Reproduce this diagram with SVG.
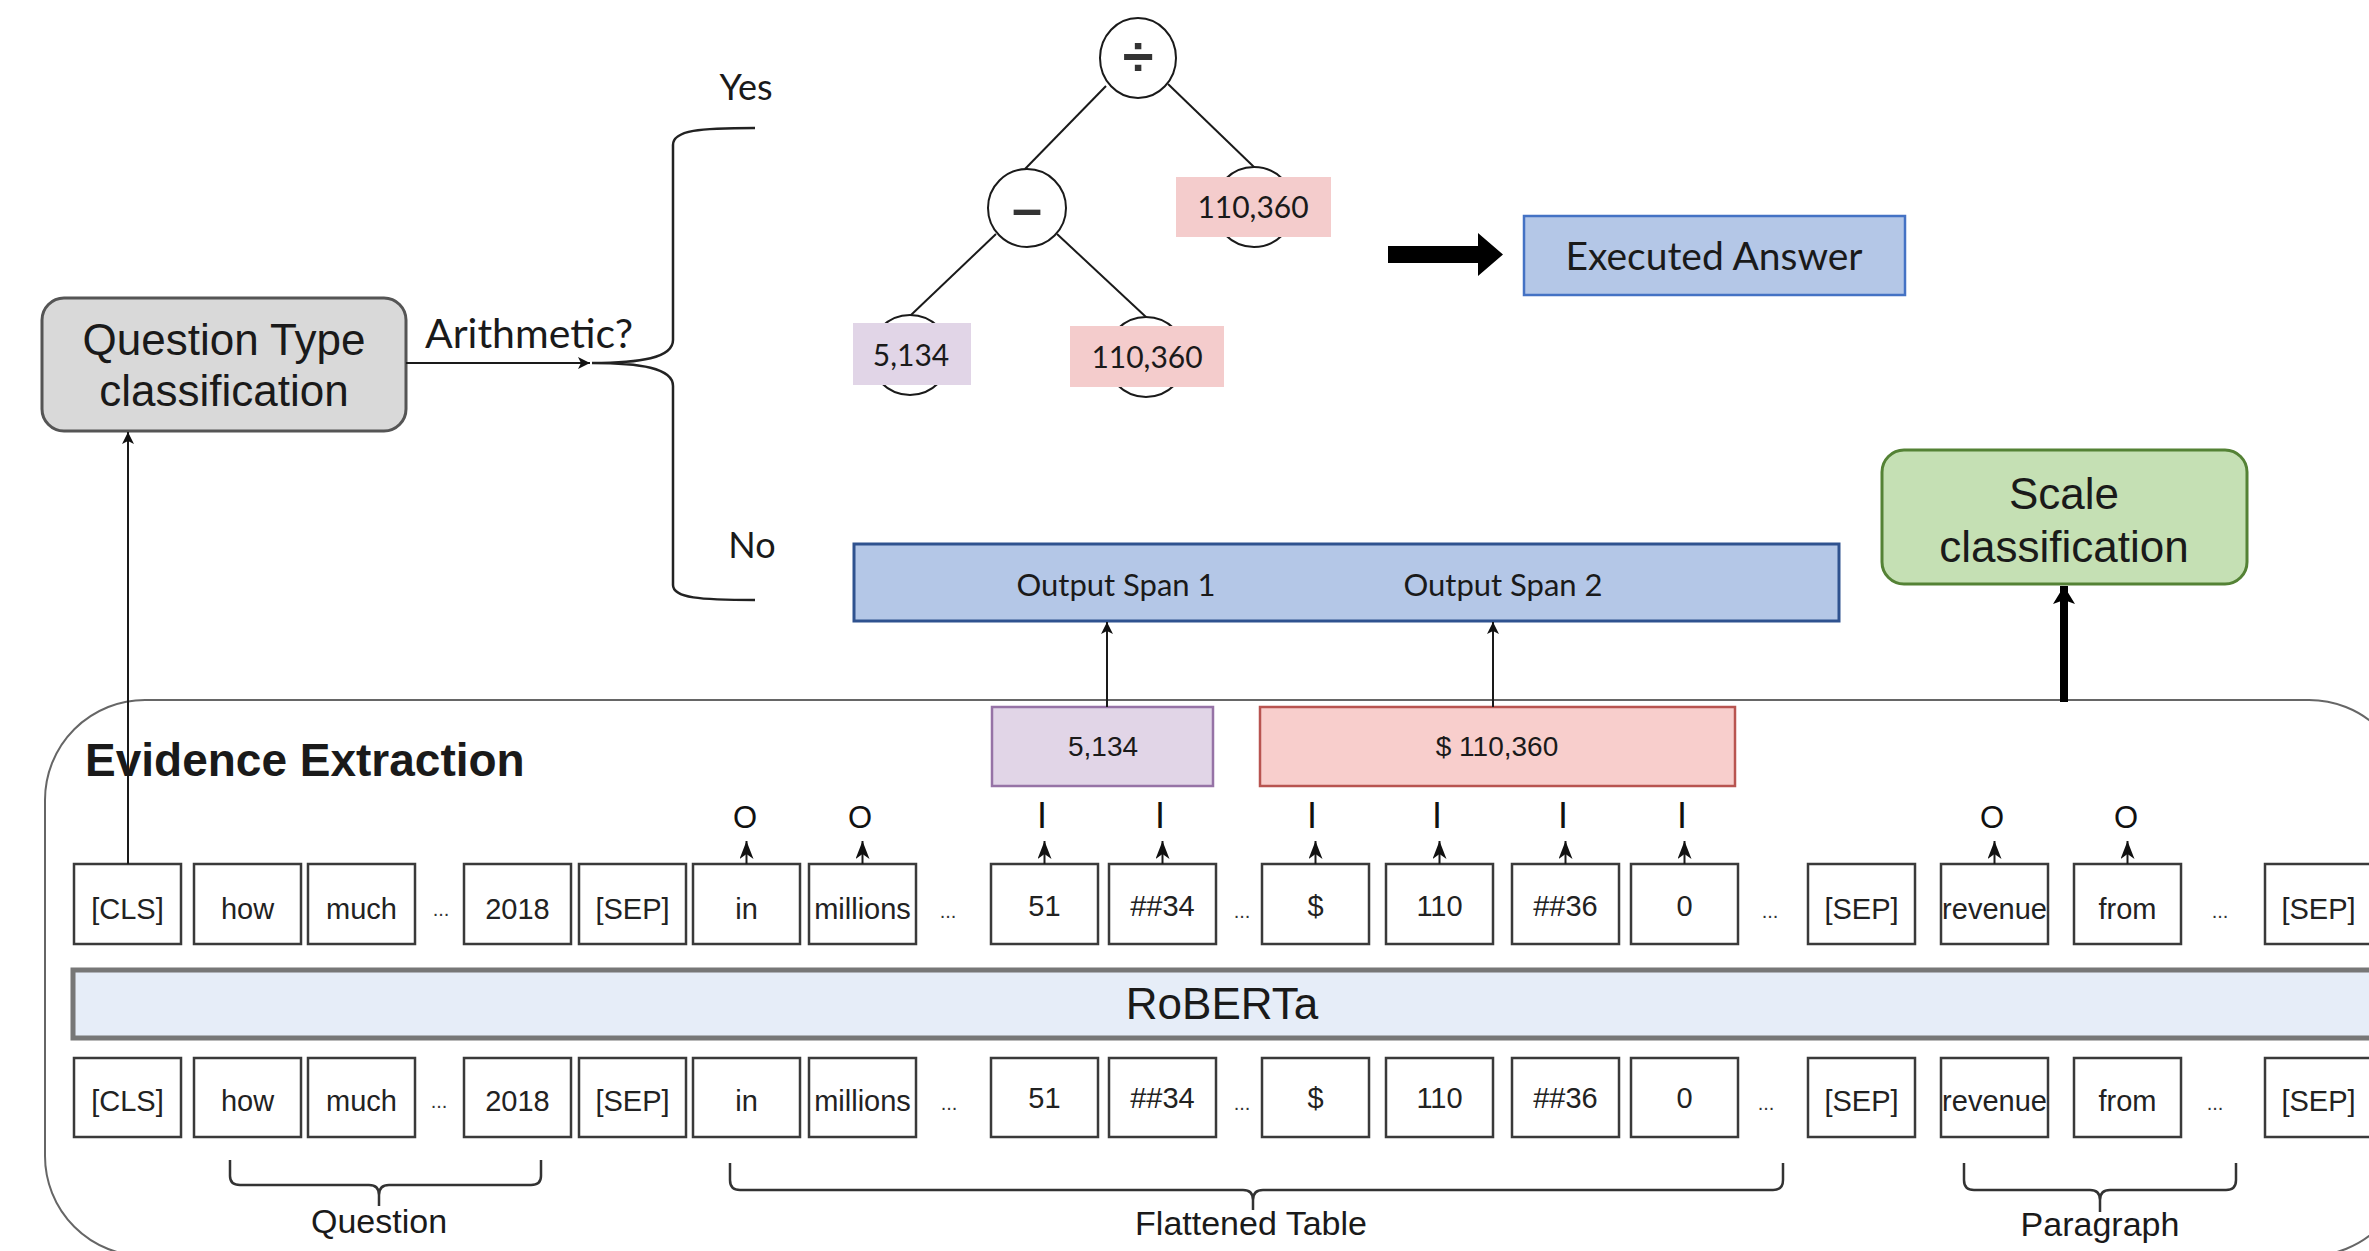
<svg xmlns="http://www.w3.org/2000/svg" width="2369" height="1251" viewBox="0 0 2369 1251">
<style>
.a{font-family:"Liberation Sans",Arial,sans-serif;fill:#1a1a1a}
.c{font-family:Lato,"Liberation Sans",sans-serif;fill:#1a1a1a}
.m{text-anchor:middle}
.tok{fill:#fff;stroke:#3a3a3a;stroke-width:2.5}
.tt{font-family:"Liberation Sans",Arial,sans-serif;font-size:29px;text-anchor:middle;fill:#222}
.dots{font-family:"Liberation Sans",Arial,sans-serif;font-size:20px;text-anchor:middle;fill:#333}
.tag{font-family:"Liberation Sans",Arial,sans-serif;text-anchor:middle;fill:#111}
.ln{stroke:#1a1a1a;stroke-width:2;fill:none}
.br{stroke:#333;stroke-width:2.5;fill:none}
.op{fill:#fff;stroke:#1a1a1a;stroke-width:2}
.pink{fill:#f4cccc}
.lav{fill:#e1d5e7}
</style>
<defs>
<marker id="ah" viewBox="0 0 12 12" refX="12" refY="6" markerWidth="12" markerHeight="12" markerUnits="userSpaceOnUse" orient="auto"><path d="M0,0 L12,6 L0,12 L3,6 z" fill="#111"/></marker>
<marker id="aht" viewBox="0 0 18 14" refX="18" refY="7" markerWidth="18" markerHeight="14" markerUnits="userSpaceOnUse" orient="auto"><path d="M0,0 L18,7 L0,14 L5,7 z" fill="#111"/></marker>
<marker id="ahb" viewBox="0 0 18 22" refX="18" refY="11" markerWidth="18" markerHeight="22" markerUnits="userSpaceOnUse" orient="auto"><path d="M0,0 L18,11 L0,22 L4,11 z" fill="#000"/></marker>
</defs>

<rect width="2369" height="1251" fill="#fff"/>

<g id="evidence-extraction">
<rect x="45" y="700" width="2364" height="556" rx="100" fill="none" stroke="#666" stroke-width="2"/>
<text class="a" x="85" y="776" font-size="46" font-weight="bold">Evidence Extraction</text>
</g>

<g id="roberta">
<rect x="73" y="970" width="2400" height="68" fill="#e6edf8" stroke="#777" stroke-width="5"/>
<text class="a m" x="1222" y="1019" font-size="44">RoBERTa</text>
</g>

<g id="question-type">
<rect x="42" y="298" width="364" height="133" rx="22" fill="#d9d9d9" stroke="#555" stroke-width="3"/>
<text class="a m" x="224" y="355" font-size="44">Question Type</text>
<text class="a m" x="224" y="406" font-size="44">classification</text>
</g>

<g id="scale">
<rect x="1882" y="450" width="365" height="134" rx="22" fill="#c5e0b4" stroke="#548235" stroke-width="3"/>
<text class="a m" x="2064" y="509" font-size="44">Scale</text>
<text class="a m" x="2064" y="562" font-size="44">classification</text>
</g>

<g id="labels">
<text class="c" x="425" y="348" font-size="40" textLength="208" lengthAdjust="spacingAndGlyphs">Arithmetic?</text>
<text class="c m" x="746" y="100" font-size="36">Yes</text>
<text class="c m" x="752" y="558" font-size="36">No</text>
</g>

<g id="tree">
<g id="op-div">
<ellipse class="op" cx="1138" cy="58" rx="38" ry="40"/>
<text class="a m" x="1138" y="76" font-size="56" font-weight="bold" style="fill:#333">÷</text>
</g>
<g id="op-sub">
<ellipse class="op" cx="1027" cy="208" rx="39" ry="39"/>
<text class="a m" x="1027" y="227" font-size="54" font-weight="bold" style="fill:#333">–</text>
</g>
<g id="leaf-110360-a">
<circle class="op" cx="1254" cy="207" r="40"/>
<rect class="pink" x="1176" y="177" width="155" height="60"/>
<text class="c m" x="1253" y="218" font-size="30">110,360</text>
</g>
<g id="leaf-5134">
<circle class="op" cx="910" cy="355" r="40"/>
<rect class="lav" x="853" y="323" width="118" height="62"/>
<text class="c m" x="911" y="366" font-size="30">5,134</text>
</g>
<g id="leaf-110360-b">
<circle class="op" cx="1146" cy="357" r="40"/>
<rect class="pink" x="1070" y="326" width="154" height="61"/>
<text class="c m" x="1147" y="368" font-size="30">110,360</text>
</g>
</g>

<g id="executed-answer">
<rect x="1524" y="216" width="381" height="79" fill="#b4c7e7" stroke="#4472c4" stroke-width="2.5"/>
<text class="c m" x="1714" y="270" font-size="39">Executed Answer</text>
</g>

<g id="output-span">
<rect x="854" y="544" width="985" height="77" fill="#b4c7e7" stroke="#2f528f" stroke-width="3"/>
<text class="c m" x="1116" y="596" font-size="31">Output Span 1</text>
<text class="c m" x="1503" y="596" font-size="31">Output Span 2</text>
</g>

<g id="span-5134">
<rect x="992" y="707" width="221" height="79" fill="#e1d5e7" stroke="#9673a6" stroke-width="2.5"/>
<text class="a m" x="1103" y="756" font-size="28">5,134</text>
</g>
<g id="span-110360">
<rect x="1260" y="707" width="475" height="79" fill="#f8cecc" stroke="#b85450" stroke-width="2.5"/>
<text class="a m" x="1497" y="756" font-size="28">$ 110,360</text>
</g>

<g id="tokens-top">
<g id="t-cls"><rect class="tok" x="74" y="864" width="107" height="80"/><text class="tt" x="127.5" y="919">[CLS]</text></g>
<g id="t-how"><rect class="tok" x="194" y="864" width="107" height="80"/><text class="tt" x="247.5" y="919">how</text></g>
<g id="t-much"><rect class="tok" x="308" y="864" width="107" height="80"/><text class="tt" x="361.5" y="919">much</text></g>
<g id="t-2018"><rect class="tok" x="464" y="864" width="107" height="80"/><text class="tt" x="517.5" y="919">2018</text></g>
<g id="t-sep1"><rect class="tok" x="579" y="864" width="107" height="80"/><text class="tt" x="632.5" y="919">[SEP]</text></g>
<g id="t-in"><rect class="tok" x="693" y="864" width="107" height="80"/><text class="tt" x="746.5" y="919">in</text></g>
<g id="t-millions"><rect class="tok" x="809" y="864" width="107" height="80"/><text class="tt" x="862.5" y="919">millions</text></g>
<g id="t-51"><rect class="tok" x="991" y="864" width="107" height="80"/><text class="tt" x="1044.5" y="916">51</text></g>
<g id="t-34"><rect class="tok" x="1109" y="864" width="107" height="80"/><text class="tt" x="1162.5" y="916">##34</text></g>
<g id="t-dollar"><rect class="tok" x="1262" y="864" width="107" height="80"/><text class="tt" x="1315.5" y="916">$</text></g>
<g id="t-110"><rect class="tok" x="1386" y="864" width="107" height="80"/><text class="tt" x="1439.5" y="916">110</text></g>
<g id="t-36"><rect class="tok" x="1512" y="864" width="107" height="80"/><text class="tt" x="1565.5" y="916">##36</text></g>
<g id="t-0"><rect class="tok" x="1631" y="864" width="107" height="80"/><text class="tt" x="1684.5" y="916">0</text></g>
<g id="t-sep2"><rect class="tok" x="1808" y="864" width="107" height="80"/><text class="tt" x="1861.5" y="919">[SEP]</text></g>
<g id="t-revenue"><rect class="tok" x="1941" y="864" width="107" height="80"/><text class="tt" x="1994.5" y="919">revenue</text></g>
<g id="t-from"><rect class="tok" x="2074" y="864" width="107" height="80"/><text class="tt" x="2127.5" y="919">from</text></g>
<g id="t-sep3"><rect class="tok" x="2265" y="864" width="107" height="80"/><text class="tt" x="2318.5" y="919">[SEP]</text></g>
<text class="dots" x="441" y="916">...</text>
<text class="dots" x="948" y="918">...</text>
<text class="dots" x="1242" y="918">...</text>
<text class="dots" x="1770" y="918">...</text>
<text class="dots" x="2220" y="918">...</text>
</g>

<g id="tokens-bottom">
<g id="b-cls"><rect class="tok" x="74" y="1058" width="107" height="79"/><text class="tt" x="127.5" y="1111">[CLS]</text></g>
<g id="b-how"><rect class="tok" x="194" y="1058" width="107" height="79"/><text class="tt" x="247.5" y="1111">how</text></g>
<g id="b-much"><rect class="tok" x="308" y="1058" width="107" height="79"/><text class="tt" x="361.5" y="1111">much</text></g>
<g id="b-2018"><rect class="tok" x="464" y="1058" width="107" height="79"/><text class="tt" x="517.5" y="1111">2018</text></g>
<g id="b-sep1"><rect class="tok" x="579" y="1058" width="107" height="79"/><text class="tt" x="632.5" y="1111">[SEP]</text></g>
<g id="b-in"><rect class="tok" x="693" y="1058" width="107" height="79"/><text class="tt" x="746.5" y="1111">in</text></g>
<g id="b-millions"><rect class="tok" x="809" y="1058" width="107" height="79"/><text class="tt" x="862.5" y="1111">millions</text></g>
<g id="b-51"><rect class="tok" x="991" y="1058" width="107" height="79"/><text class="tt" x="1044.5" y="1108">51</text></g>
<g id="b-34"><rect class="tok" x="1109" y="1058" width="107" height="79"/><text class="tt" x="1162.5" y="1108">##34</text></g>
<g id="b-dollar"><rect class="tok" x="1262" y="1058" width="107" height="79"/><text class="tt" x="1315.5" y="1108">$</text></g>
<g id="b-110"><rect class="tok" x="1386" y="1058" width="107" height="79"/><text class="tt" x="1439.5" y="1108">110</text></g>
<g id="b-36"><rect class="tok" x="1512" y="1058" width="107" height="79"/><text class="tt" x="1565.5" y="1108">##36</text></g>
<g id="b-0"><rect class="tok" x="1631" y="1058" width="107" height="79"/><text class="tt" x="1684.5" y="1108">0</text></g>
<g id="b-sep2"><rect class="tok" x="1808" y="1058" width="107" height="79"/><text class="tt" x="1861.5" y="1111">[SEP]</text></g>
<g id="b-revenue"><rect class="tok" x="1941" y="1058" width="107" height="79"/><text class="tt" x="1994.5" y="1111">revenue</text></g>
<g id="b-from"><rect class="tok" x="2074" y="1058" width="107" height="79"/><text class="tt" x="2127.5" y="1111">from</text></g>
<g id="b-sep3"><rect class="tok" x="2265" y="1058" width="107" height="79"/><text class="tt" x="2318.5" y="1111">[SEP]</text></g>
<text class="dots" x="439" y="1108">...</text>
<text class="dots" x="949" y="1110">...</text>
<text class="dots" x="1242" y="1110">...</text>
<text class="dots" x="1766" y="1110">...</text>
<text class="dots" x="2215" y="1110">...</text>
</g>

<g id="tags">
<text class="tag" x="745" y="828" font-size="31">O</text>
<text class="tag" x="860" y="828" font-size="31">O</text>
<text class="tag" x="1042" y="828" font-size="36">I</text>
<text class="tag" x="1160" y="828" font-size="36">I</text>
<text class="tag" x="1312" y="828" font-size="36">I</text>
<text class="tag" x="1437" y="828" font-size="36">I</text>
<text class="tag" x="1563" y="828" font-size="36">I</text>
<text class="tag" x="1682" y="828" font-size="36">I</text>
<text class="tag" x="1992" y="828" font-size="31">O</text>
<text class="tag" x="2126" y="828" font-size="31">O</text>
</g>

<g id="segment-labels">
<path class="br" d="M230,1160 V1176 Q230,1185 240,1185 H369 Q379,1185 379,1195 Q379,1185 389,1185 H531 Q541,1185 541,1176 V1160 M379,1195 V1206"/>
<text class="a m" x="379" y="1233" font-size="34">Question</text>
<path class="br" d="M730,1163 V1180 Q730,1190 740,1190 H1243 Q1253,1190 1253,1200 Q1253,1190 1263,1190 H1773 Q1783,1190 1783,1180 V1163 M1253,1200 V1210"/>
<text class="a m" x="1251" y="1235" font-size="34">Flattened Table</text>
<path class="br" d="M1964,1163 V1180 Q1964,1190 1974,1190 H2090 Q2100,1190 2100,1200 Q2100,1190 2110,1190 H2226 Q2236,1190 2236,1180 V1163 M2100,1200 V1212"/>
<text class="a m" x="2100" y="1236" font-size="34">Paragraph</text>
</g>

<g id="connectors">
<line class="ln" x1="1106" y1="86" x2="1025" y2="169"/>
<line class="ln" x1="1168" y1="84" x2="1254" y2="167"/>
<line class="ln" x1="996" y1="234" x2="911" y2="315"/>
<line class="ln" x1="1057" y1="234" x2="1146" y2="317"/>
<path class="br" style="stroke:#222" d="M755,128 C700,128 673,130 673,145 V340 C673,358 640,363 592,363 C640,363 673,368 673,386 V585 C673,598 700,600 755,600"/>
<line class="ln" x1="406" y1="363" x2="590" y2="363" marker-end="url(#ah)"/>
<line class="ln" x1="128" y1="864" x2="128" y2="432" marker-end="url(#ah)"/>
<path d="M1388,246 H1478 V233 L1503,254.5 L1478,276 V263 H1388 Z" fill="#000"/>
<line class="ln" x1="1107" y1="707" x2="1107" y2="622" marker-end="url(#ah)"/>
<line class="ln" x1="1493" y1="707" x2="1493" y2="622" marker-end="url(#ah)"/>
<line x1="2064" y1="702" x2="2064" y2="586" stroke="#000" stroke-width="8" marker-end="url(#ahb)"/>
<line class="ln" x1="746.5" y1="864" x2="746.5" y2="841" marker-end="url(#aht)"/>
<line class="ln" x1="862.5" y1="864" x2="862.5" y2="841" marker-end="url(#aht)"/>
<line class="ln" x1="1044.5" y1="864" x2="1044.5" y2="841" marker-end="url(#aht)"/>
<line class="ln" x1="1162.5" y1="864" x2="1162.5" y2="841" marker-end="url(#aht)"/>
<line class="ln" x1="1315.5" y1="864" x2="1315.5" y2="841" marker-end="url(#aht)"/>
<line class="ln" x1="1439.5" y1="864" x2="1439.5" y2="841" marker-end="url(#aht)"/>
<line class="ln" x1="1565.5" y1="864" x2="1565.5" y2="841" marker-end="url(#aht)"/>
<line class="ln" x1="1684.5" y1="864" x2="1684.5" y2="841" marker-end="url(#aht)"/>
<line class="ln" x1="1994.5" y1="864" x2="1994.5" y2="841" marker-end="url(#aht)"/>
<line class="ln" x1="2127.5" y1="864" x2="2127.5" y2="841" marker-end="url(#aht)"/>
</g>
</svg>
